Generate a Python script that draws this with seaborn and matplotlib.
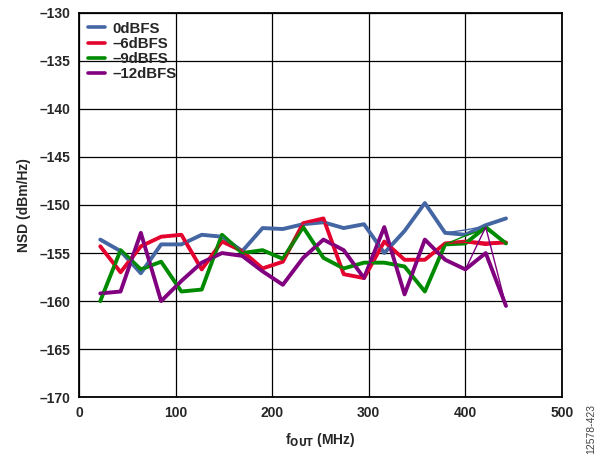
import pandas as pd
import matplotlib.pyplot as plt
import seaborn as sns

# output frequencies, MHz
f_out = [22, 43, 64, 85, 106, 127, 148, 169, 190, 211, 232,
         253, 274, 295, 316, 337, 358, 379, 400, 421, 442]

# NSD (dBm/Hz), main capture
nsd_0 = [-153.6, -154.8, -157.1, -154.1, -154.1, -153.1, -153.3, -154.8, -152.4, -152.5, -152.0,
         -151.8, -152.4, -152.0, -155.0, -152.7, -149.8, -152.9, -153.1, -152.1, -151.4]
nsd_6 = [-154.3, -157.0, -154.3, -153.3, -153.1, -156.7, -153.8, -154.8, -156.6, -155.9, -151.9,
         -151.4, -157.2, -157.6, -153.8, -155.7, -155.7, -154.0, -153.8, -154.0, -153.9]
nsd_9 = [-160.0, -154.7, -156.7, -155.9, -159.0, -158.8, -153.1, -155.0, -154.7, -155.6, -152.3,
         -155.5, -156.6, -156.0, -156.0, -156.4, -159.0, -154.1, -154.0, -152.3, -154.0]
nsd_12 = [-159.2, -159.0, -152.9, -160.0, -157.9, -156.0, -155.0, -155.3, -156.9, -158.3, -155.5,
          -153.6, -154.7, -157.6, -152.3, -159.3, -153.6, -155.7, -156.7, -155.0, -160.5]

# second capture (differs only near the top end)
nsd_0b = nsd_0[:18] + [-152.6, -152.2, -151.3]
nsd_6b = nsd_6[:18] + [-153.9, -154.2, -153.9]
nsd_9b = nsd_9[:18] + [-153.2, -152.5, -154.0]
nsd_12b = nsd_12[:18] + [-156.7, -152.3, -160.5]

labels = ['0dBFS', '–6dBFS', '–9dBFS', '–12dBFS']
colors = ['#4467a3', '#e4032e', '#008a00', '#800080']

rows = []
for lab, a, b in zip(labels, [nsd_0, nsd_6, nsd_9, nsd_12], [nsd_0b, nsd_6b, nsd_9b, nsd_12b]):
    for f, v1, v2 in zip(f_out, a, b):
        rows.append({'f': f, 'nsd': v1, 'level': lab, 'run': 'a'})
        rows.append({'f': f, 'nsd': v2, 'level': lab, 'run': 'b'})
df = pd.DataFrame(rows)

sns.set_style('white')
plt.rcParams['font.family'] = ['Liberation Sans', 'DejaVu Sans']
plt.rcParams['font.weight'] = 'bold'

fig = plt.figure(figsize=(6, 4.54), dpi=100)
ax = fig.add_axes([0.1317, 0.125, 0.805, 0.847])

pal = dict(zip(labels, colors))
sns.lineplot(data=df[df['run'] == 'a'], x='f', y='nsd', hue='level', palette=pal,
             linewidth=2.8, ax=ax, legend=True)
sns.lineplot(data=df[df['run'] == 'b'], x='f', y='nsd', hue='level', palette=pal,
             linewidth=1.0, ax=ax, legend=False)

ax.set_xlim(0, 500)
ax.set_ylim(-170, -130)
ax.set_xticks(range(0, 501, 100))
ax.set_yticks(range(-170, -129, 5))
ax.set_yticklabels([f'–{abs(t)}' for t in range(-170, -129, 5)])
ax.grid(True, color='black', linewidth=0.9)
ax.set_axisbelow(True)
for s in ax.spines.values():
    s.set_color('black')
    s.set_linewidth(1.3)
ax.tick_params(axis='both', length=0, pad=6, labelsize=10)
for t in ax.get_xticklabels() + ax.get_yticklabels():
    t.set_fontweight('bold')

ax.set_xlabel('f$_{\\mathbf{OUT}}$ (MHz)', fontsize=10, fontweight='bold', labelpad=8)
ax.set_ylabel('NSD (dBm/Hz)', fontsize=10, fontweight='bold', labelpad=6)

leg = ax.legend(loc='upper left', frameon=False, fontsize=10.8, handlelength=1.1,
                handletextpad=0.5, labelspacing=0.08, borderaxespad=0.35,
                borderpad=0.25)
for line in leg.get_lines():
    line.set_linewidth(2.6)
for t in leg.get_texts():
    t.set_fontweight('bold')

fig.text(0.985, 0.0, '12578-423', rotation=90, fontsize=7.5, color='#444444',
         ha='center', va='bottom', fontweight='normal')

fig.savefig('out.png', dpi=100)
